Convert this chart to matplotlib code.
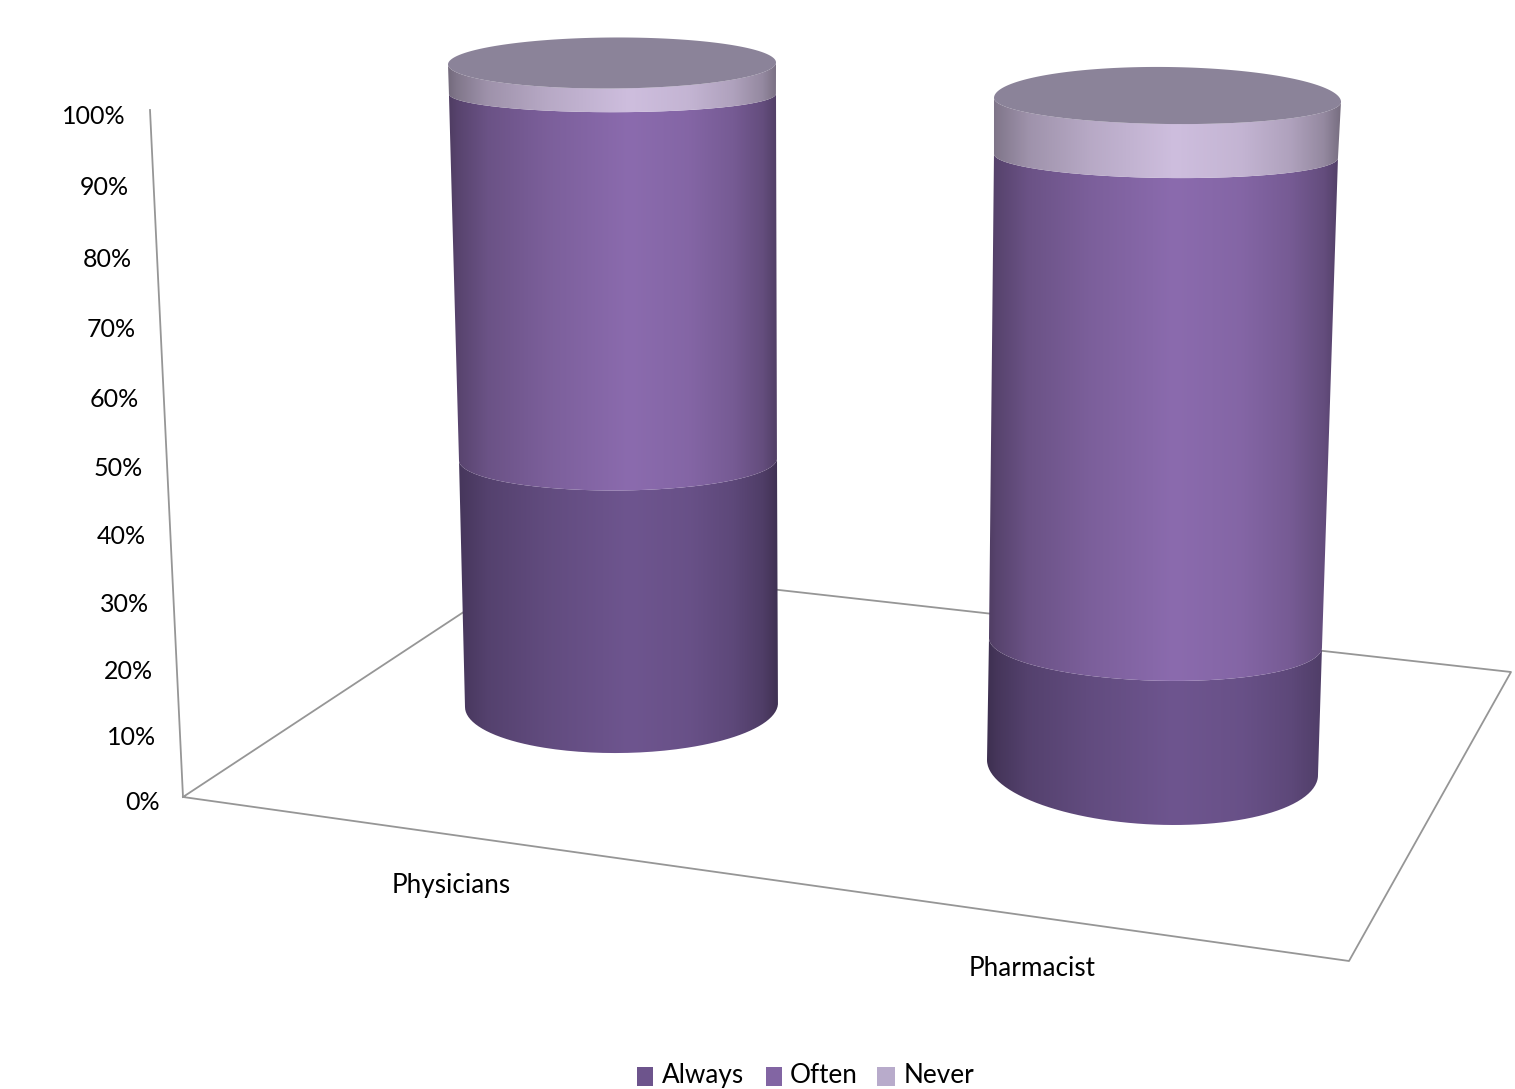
import numpy as np
import matplotlib
matplotlib.use("Agg")
import matplotlib.pyplot as plt
from matplotlib.colors import to_rgb
from matplotlib.patches import PathPatch, Polygon, Rectangle
from matplotlib.path import Path

categories = ["Physicians", "Pharmacist"]
series = ["Always", "Often", "Never"]
always = [39.5, 19.5]
often = [56.0, 72.5]
never = [4.5, 8.0]
tick_values = [0, 10, 20, 30, 40, 50, 60, 70, 80, 90, 100]

SERIES_COLORS = ["#6E558F", "#8B6BAE", "#CEBEDE"]
LEGEND_COLORS = ["#6D548C", "#8265A3", "#B8ABCB"]
LID_COLOR = "#8B8399"
LINE_COLOR = "#969696"
TEXT_COLOR = "#000000"
FONT = "Lato"
TICK_SIZE = 18
LABEL_SIZE = 18.8

# perspective along the value axis: the top of the chart sits closer to the eye
PERSPECTIVE = 1.053

# screen geometry of each cylinder, keyed on the height fraction
CYLINDERS = [
    {
        "t": [0.0, 0.383, 0.95, 1.0],
        "left": [465, 459, 449, 448],
        "right": [778, 777, 776, 776],
        "ry": [48, 31, 18, 25],
        "tilt": [-4, -2, 0, -2],
        "base_y": 705,
        "lid_y": 63.5,
        "lid_back_ry": 26,
        "peak": 0.55,
    },
    {
        "t": [0.0, 0.187, 0.917, 1.0],
        "left": [987, 989, 994, 994],
        "right": [1318, 1322, 1338, 1341],
        "ry": [57, 38, 22, 24],
        "tilt": [15, 9, 4, 4],
        "base_y": 767.5,
        "lid_y": 100,
        "lid_back_ry": 33,
        "peak": 0.53,
    },
]

# brightness across a cylinder: 0 is the left edge, 1 the highlight, 2 the right edge
SHADE_POS = [0.0, 0.05, 0.22, 0.55, 1.0, 1.4, 1.7, 1.9, 2.0]
SHADE_VAL = [0.56, 0.63, 0.77, 0.89, 1.0, 0.95, 0.85, 0.72, 0.58]


def frac(value):
    v = value / 100
    return v / (v + PERSPECTIVE * (1 - v))


def shading(peak, n=400):
    xs = np.linspace(0, 1, n)
    pos = np.where(xs <= peak, xs / peak, 1 + (xs - peak) / (1 - peak))
    return np.interp(pos, SHADE_POS, SHADE_VAL)


def ring(cyl, value, theta):
    t = frac(value)
    left = np.interp(t, cyl["t"], cyl["left"])
    right = np.interp(t, cyl["t"], cyl["right"])
    ry = np.interp(t, cyl["t"], cyl["ry"])
    tilt = np.interp(t, cyl["t"], cyl["tilt"])
    cy = cyl["base_y"] + t * (cyl["lid_y"] - cyl["base_y"])
    cx = (left + right) / 2
    rx = (right - left) / 2
    x = cx + rx * np.cos(theta)
    y = cy + ry * np.sin(theta) + tilt / 2 * np.cos(theta)
    return np.column_stack([x, y])


def draw_segment(ax, cyl, low, high, color):
    theta = np.linspace(0, np.pi, 120)
    outline = np.vstack([ring(cyl, high, theta[::-1]), ring(cyl, low, theta)])
    extent_l = min(cyl["left"])
    extent_r = max(cyl["right"])
    top = outline[:, 1].min() - 2
    bottom = outline[:, 1].max() + 2
    rgb = np.array(to_rgb(color))
    img = shading(cyl["peak"])[None, :, None] * rgb[None, None, :]
    im = ax.imshow(
        img,
        extent=[extent_l, extent_r, bottom, top],
        aspect="auto",
        interpolation="bilinear",
        zorder=3,
    )
    patch = PathPatch(Path(np.vstack([outline, outline[:1]])), transform=ax.transData)
    im.set_clip_path(patch)


def draw_lid(ax, cyl):
    theta = np.linspace(0, np.pi, 120)
    front = ring(cyl, 100, theta)
    back = front[::-1].copy()
    # the far half of the lid bulges more than the near half
    back[:, 1] -= (cyl["lid_back_ry"] + cyl["ry"][-1]) * np.sin(theta[::-1])
    ax.add_patch(
        Polygon(np.vstack([front, back]), closed=True, fc=LID_COLOR, ec="none", zorder=4)
    )


fig = plt.figure(figsize=(15.15, 10.89), dpi=100)
ax = fig.add_axes([0, 0, 1, 1])

# floor and value axis
floor = np.array([[183, 797], [1349, 961], [1511, 672], [538, 563], [183, 797]])
ax.plot(floor[:, 0], floor[:, 1], color=LINE_COLOR, lw=1.3, zorder=1)
ax.plot([150, 183], [110, 797], color=LINE_COLOR, lw=1.3, zorder=1)

for i, cyl in enumerate(CYLINDERS):
    stack = np.cumsum([0, always[i], often[i], never[i]])
    for low, high, color in zip(stack[:-1], stack[1:], SERIES_COLORS):
        draw_segment(ax, cyl, low, high, color)
    draw_lid(ax, cyl)

for value in tick_values:
    y = 803 - 687 * frac(value)
    x = 159.5 - 34 * value / 100
    ax.text(x, y, f"{value}%", ha="right", va="center", family=FONT,
            fontsize=TICK_SIZE, color=TEXT_COLOR)

for name, x, y in zip(categories, [451, 1032.5], [886, 969]):
    ax.text(x, y, name, ha="center", va="center", family=FONT,
            fontsize=LABEL_SIZE, color=TEXT_COLOR)

# legend sits right on the bottom edge of the figure
for name, color, sx, sw, tx in zip(series, LEGEND_COLORS, [637, 766, 877], [16, 16, 18], [662, 790, 904]):
    ax.add_patch(Rectangle((sx, 1067), sw, 19, fc=color, ec="none"))
    ax.text(tx, 1083, name, ha="left", va="baseline", family=FONT,
            fontsize=LABEL_SIZE, color=TEXT_COLOR)

ax.set_xlim(0, 1515)
ax.set_ylim(1089, 0)
ax.axis("off")
fig.savefig("out.png", dpi=100, facecolor="white")
